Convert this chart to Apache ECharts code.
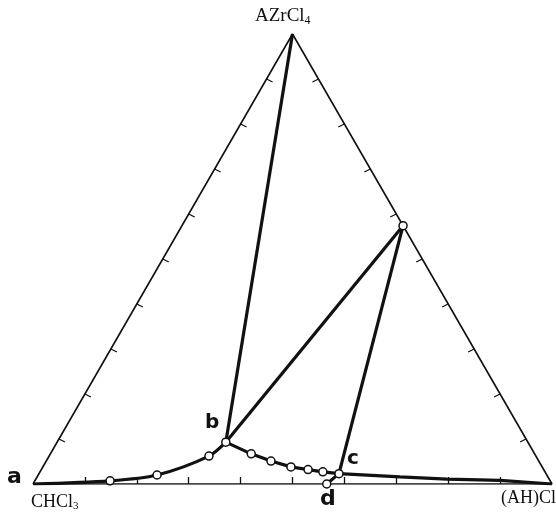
<!DOCTYPE html>
<html>
<head>
<meta charset="utf-8">
<script src="https://cdn.jsdelivr.net/npm/echarts@6/dist/echarts.min.js"></script>
<style>
html,body{margin:0;padding:0;background:#fff;}
#diagrama{width:556px;height:512px;}
</style>
</head>
<body>
<div id="diagrama"></div>
<script>
// composiciones en % : [ (AH)Cl , AZrCl4 ]  (CHCl3 = resto)
var vertices = [[0, 0], [100, 0], [0, 100]];
var tickValues = [10, 20, 30, 40, 50, 60, 70, 80, 90];

// curva de solubilidad a -> b -> c -> (AH)Cl
var curvaAB = [[0, 0], [14.5, 0.7], [22.9, 2.0], [30.8, 6.2], [32.5, 9.3]];
var curvaBC = [[32.5, 9.3], [38.7, 6.7], [43.3, 5.1], [47.8, 3.8], [51.4, 3.2], [54.5, 2.7], [57.8, 2.3]];
var curvaCR = [[57.8, 2.3], [69.9, 1.6], [79.2, 1.1], [89.6, 0.8], [100, 0]];

// puntos experimentales (circulos)
var puntos = [[14.5, 0.7], [22.9, 2.0], [30.8, 6.2], [32.5, 9.3], [38.7, 6.7], [43.3, 5.1],
	[47.8, 3.8], [51.4, 3.2], [54.5, 2.7], [57.8, 2.3], [56.6, 0], [42.6, 57.4]];

var compuesto = [42.6, 57.4];
var puntoB = [32.5, 9.3];
var puntoC = [57.8, 2.3];
var puntoD = [56.6, 0];
var apice = [0, 100];

// lineas de union
var uniones = [[apice, puntoB], [compuesto, puntoB], [compuesto, puntoC], [puntoC, puntoD]];

function xy(p) {
	return [(p[0] + p[1] / 2) / 100, p[1] / 100];
}

var tickDx = 6 / 519, tickDy = 3 / 450, tickUp = 7 / 450;
var ticks = [];
tickValues.forEach(function(v){
	var b = xy([v, 0]);
	ticks.push({coords: [b, [b[0], b[1] + tickUp]]});
	var l = xy([0, v]);
	ticks.push({coords: [l, [l[0] + tickDx, l[1] - tickDy]]});
	var r = xy([100 - v, v]);
	ticks.push({coords: [r, [r[0] - tickDx, r[1] - tickDy]]});
});

var marco = vertices.map(xy);
marco.push(xy(vertices[0]));

var dom = document.getElementById("diagrama");
var myChart = echarts.init(dom);
var option = null;
option = {
	animation: false,
	backgroundColor: '#fff',
	grid: {left: 33, right: 4, top: 34, bottom: 28},
	xAxis: {type: 'value', min: 0, max: 1, show: false},
	yAxis: {type: 'value', min: 0, max: 1, show: false},
	series: [
		{
			type: 'line', data: marco, symbol: 'none', z: 1,
			lineStyle: {color: '#111', width: 1.6}
		},
		{
			type: 'lines', coordinateSystem: 'cartesian2d', data: ticks, z: 1,
			lineStyle: {color: '#111', width: 1.3, opacity: 1}
		},
		{
			type: 'lines', coordinateSystem: 'cartesian2d', z: 2,
			data: uniones.map(function(u){ return {coords: [xy(u[0]), xy(u[1])]}; }),
			lineStyle: {color: '#111', width: 3.2, opacity: 1}
		},
		{
			type: 'line', data: curvaAB.map(xy), symbol: 'none', smooth: 0.3, z: 2,
			lineStyle: {color: '#111', width: 3.2}
		},
		{
			type: 'line', data: curvaBC.map(xy), symbol: 'none', z: 2,
			lineStyle: {color: '#111', width: 3.2}
		},
		{
			type: 'line', data: curvaCR.map(xy), symbol: 'none', z: 2,
			lineStyle: {color: '#111', width: 3.2}
		},
		{
			type: 'scatter', data: puntos.map(xy), symbol: 'circle', symbolSize: 8, z: 5,
			itemStyle: {color: '#fff', borderColor: '#111', borderWidth: 1.5, opacity: 1}
		}
	],
	graphic: [
		{type: 'text', left: 255, top: 7, style: {
			text: '{m|AZrCl}{s|4}', fill: '#111',
			rich: {m: {fontFamily: 'Liberation Serif', fontSize: 19, fill: '#111'},
				s: {fontFamily: 'Liberation Serif', fontSize: 12, fill: '#111', padding: [9, 0, 0, 0]}}
		}},
		{type: 'text', left: 31, top: 493, style: {
			text: '{m|CHCl}{s|3}', fill: '#111',
			rich: {m: {fontFamily: 'Liberation Serif', fontSize: 18, fill: '#111'},
				s: {fontFamily: 'Liberation Serif', fontSize: 11, fill: '#111', padding: [9, 0, 0, 0]}}
		}},
		{type: 'text', right: 0, top: 489, style: {
			text: '(AH)Cl', fill: '#111', fontFamily: 'Liberation Serif', fontSize: 18
		}},
		{type: 'text', left: 7, top: 466, style: {text: 'a', fill: '#111', fontFamily: 'DejaVu Sans', fontWeight: 'bold', fontSize: 22}},
		{type: 'text', left: 205, top: 413, style: {text: 'b', fill: '#111', fontFamily: 'DejaVu Sans', fontWeight: 'bold', fontSize: 20}},
		{type: 'text', left: 347, top: 449, style: {text: 'c', fill: '#111', fontFamily: 'DejaVu Sans', fontWeight: 'bold', fontSize: 20}},
		{type: 'text', left: 320, top: 488, style: {text: 'd', fill: '#111', fontFamily: 'DejaVu Sans', fontWeight: 'bold', fontSize: 22}}
	]
};

if (option && typeof option === "object") {
	myChart.setOption(option, true);
}
</script>
</body>
</html>
